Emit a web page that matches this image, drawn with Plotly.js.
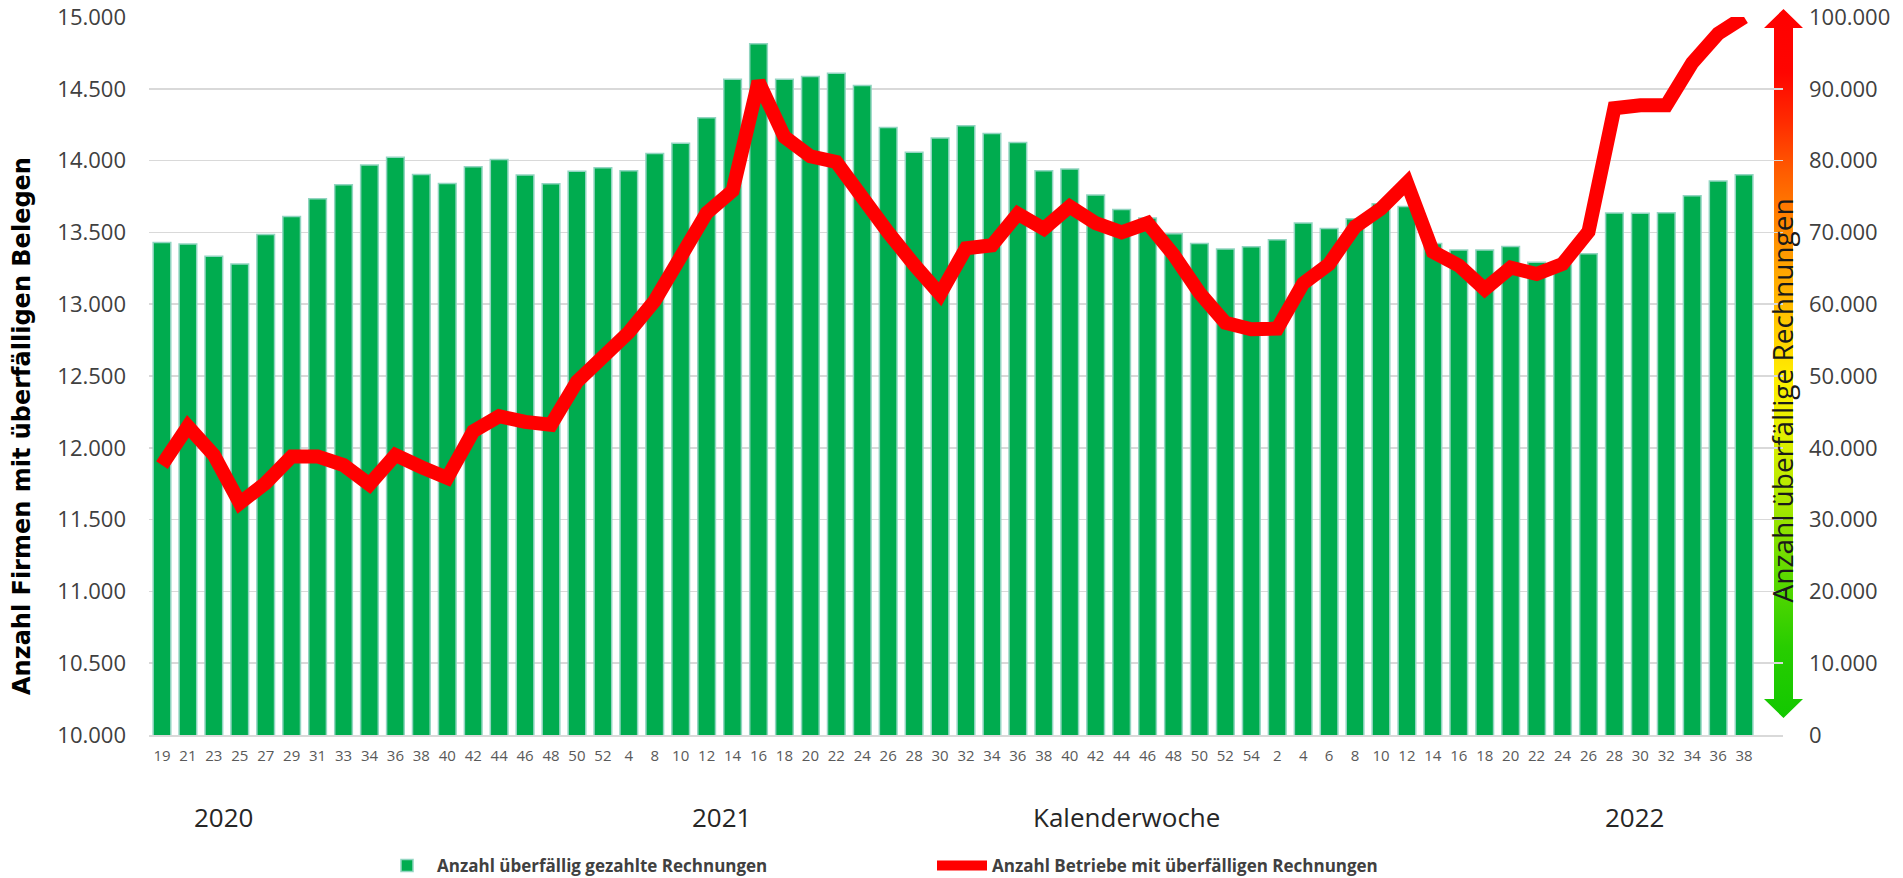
<!DOCTYPE html>
<html>
<head>
<meta charset="utf-8">
<script src="https://cdn.plot.ly/plotly-3.0.1.min.js"></script>
<style>html,body{margin:0;padding:0;background:#fff;}#chart{width:1903px;height:878px;}</style>
</head>
<body>
<div id="chart"></div>
<script>
// Calendar-week tick labels and the year each week belongs to
const weeks = ["19","21","23","25","27","29","31","33","34","36","38","40","42","44","46","48","50","52",
  "4","8","10","12","14","16","18","20","22","24","26","28","30","32","34","36","38","40","42","44","46","48","50","52","54",
  "2","4","6","8","10","12","14","16","18","20","22","24","26","28","30","32","34","36","38"];
const years = [].concat(Array(18).fill("2020"), Array(25).fill("2021"), Array(19).fill("2022"));
const categories = weeks.map((w, i) => years[i] + "-KW" + w);

// Bars (left axis): Anzahl überfällig gezahlte Rechnungen
const barValues = [13430,13420,13334,13280,13486,13610,13734,13832,13970,14023,13904,13841,13958,14007,13900,13839,13925,13951,
  13930,14050,14120,14298,14567,14814,14567,14586,14609,14523,14230,14058,14158,14242,14188,14126,13930,13942,13760,13660,13600,13490,13423,13384,13400,
  13449,13565,13528,13595,13700,13680,13423,13377,13377,13402,13293,13290,13352,13635,13633,13637,13756,13858,13902];

// Line (right axis): Anzahl Betriebe mit überfälligen Rechnungen
const lineValues = [37600,43000,39000,32300,35100,38800,38800,37600,34900,39000,37300,35800,42300,44400,43600,43200,49200,52800,
  56100,60500,66200,72700,75800,91000,83300,80600,79800,74600,70000,65500,61400,67800,68200,72600,70500,73600,71300,70000,71300,66900,61600,57400,56500,
  56600,62900,65600,70800,73300,76900,67300,65400,62100,65100,64200,65600,70100,87300,87700,87700,93600,97700,100000];

const barName = "Anzahl überfällig gezahlte Rechnungen";
const lineName = "Anzahl Betriebe mit überfälligen Rechnungen";
const leftTitle = "Anzahl Firmen mit überfälligen Belegen";
const rightTitle = "Anzahl überfällige Rechnungen";
const xTitle = "Kalenderwoche";
const yearLabels = ["2020", "2021", "2022"];

// Gradient arrow decoration along the right axis
const arrowSvg = '<svg xmlns="http://www.w3.org/2000/svg" width="39" height="709" viewBox="0 0 39 709" preserveAspectRatio="none">' +
  '<defs><linearGradient id="g" x1="0" y1="0" x2="0" y2="1">' +
  '<stop offset="0" stop-color="#ff0000"/>' +
  '<stop offset="0.09" stop-color="#ff0500"/>' +
  '<stop offset="0.16" stop-color="#ff2c00"/>' +
  '<stop offset="0.23" stop-color="#ff5c00"/>' +
  '<stop offset="0.31" stop-color="#ff8a00"/>' +
  '<stop offset="0.41" stop-color="#ffb800"/>' +
  '<stop offset="0.52" stop-color="#ffee00"/>' +
  '<stop offset="0.60" stop-color="#e2f000"/>' +
  '<stop offset="0.69" stop-color="#aee800"/>' +
  '<stop offset="0.80" stop-color="#5cd900"/>' +
  '<stop offset="0.90" stop-color="#28cd00"/>' +
  '<stop offset="1" stop-color="#12c800"/>' +
  '</linearGradient></defs>' +
  '<polygon fill="url(#g)" points="19.5,0 39,19 29,19 29,690 39,690 19.5,709 0,690 10,690 10,19 0,19"/></svg>';
const arrowSrc = 'data:image/svg+xml;charset=utf-8,' + encodeURIComponent(arrowSvg);

const FONT = '"Open Sans", sans-serif';

const traces = [
  {
    type: 'bar', name: barName, x: categories, y: barValues, yaxis: 'y', width: 0.68,
    marker: {color: '#00ac4f', line: {color: '#92d5c1', width: 1.5}},
    legend: 'legend', hoverinfo: 'skip'
  },
  {
    type: 'scatter', mode: 'lines', name: lineName, x: categories, y: lineValues, yaxis: 'y2',
    line: {color: '#ff0000', width: 14},
    legend: 'legend2', hoverinfo: 'skip'
  }
];

const annFont = {family: FONT, size: 26, color: '#262626'};
const legFont = {family: FONT, size: 17, color: '#404040', weight: 'bold'};
const layout = {
  width: 1903, height: 878,
  margin: {l: 149, r: 120, t: 17, b: 143},
  paper_bgcolor: '#ffffff', plot_bgcolor: 'rgba(0,0,0,0)',
  separators: ',.',
  font: {family: FONT, color: '#404040'},
  showlegend: true,
  hovermode: false,
  xaxis: {
    type: 'category', range: [-0.5, 62.5],
    tickmode: 'array', tickvals: categories, ticktext: weeks,
    tickangle: 0, tickfont: {family: FONT, size: 15, color: '#595959'},
    showgrid: false, zeroline: false, showline: true, linecolor: '#d9d9d9', linewidth: 2,
    ticks: '', ticklabelstandoff: 6
  },
  yaxis: {
    range: [10000, 15000], dtick: 500, tickformat: ',d',
    tickfont: {family: FONT, size: 22, color: '#404040'},
    showgrid: true, gridcolor: '#d9d9d9', gridwidth: 1.5, zeroline: false, showline: false,
    ticks: '', ticklabelstandoff: 22
  },
  yaxis2: {
    overlaying: 'y', side: 'right', range: [0, 100000], dtick: 10000, tickformat: ',d',
    tickfont: {family: FONT, size: 22, color: '#404040'},
    showgrid: false, zeroline: false, showline: false, ticks: '', ticklabelstandoff: 25
  },
  legend: {
    orientation: 'h', xref: 'container', yref: 'container', x: 377/1903, y: 1 - 866/878,
    xanchor: 'left', yanchor: 'middle', bgcolor: 'rgba(0,0,0,0)', itemwidth: 50,
    font: legFont
  },
  legend2: {
    orientation: 'h', xref: 'container', yref: 'container', x: 932/1903, y: 1 - 866/878,
    xanchor: 'left', yanchor: 'middle', bgcolor: 'rgba(0,0,0,0)', itemwidth: 50,
    font: legFont
  },
  images: [{
    source: arrowSrc, xref: 'paper', yref: 'paper',
    x: (1764 - 149) / 1634, y: (735 - 9) / 718, sizex: 39 / 1634, sizey: 709 / 718,
    xanchor: 'left', yanchor: 'top', sizing: 'stretch', layer: 'below'
  }],
  annotations: [
    {text: yearLabels[0], xref: 'paper', yref: 'paper', x: (223 - 149) / 1634, y: (735 - 817) / 718, showarrow: false, xanchor: 'center', yanchor: 'middle', font: annFont},
    {text: yearLabels[1], xref: 'paper', yref: 'paper', x: (721 - 149) / 1634, y: (735 - 817) / 718, showarrow: false, xanchor: 'center', yanchor: 'middle', font: annFont},
    {text: xTitle, xref: 'paper', yref: 'paper', x: (1126 - 149) / 1634, y: (735 - 817) / 718, showarrow: false, xanchor: 'center', yanchor: 'middle', font: annFont},
    {text: yearLabels[2], xref: 'paper', yref: 'paper', x: (1634 - 149) / 1634, y: (735 - 817) / 718, showarrow: false, xanchor: 'center', yanchor: 'middle', font: annFont},
    {text: leftTitle, xref: 'paper', yref: 'paper', x: (22 - 149) / 1634, y: (735 - 426) / 718, showarrow: false, textangle: -90, xanchor: 'center', yanchor: 'middle',
      font: {family: '"DejaVu Sans", sans-serif', size: 24, color: '#000000', weight: 'bold'}},
    {text: rightTitle, xref: 'paper', yref: 'paper', x: (1781.5 - 149) / 1634, y: (735 - 401) / 718, showarrow: false, textangle: -90, xanchor: 'center', yanchor: 'middle',
      font: {family: FONT, size: 28, color: '#1a1a1a'}}
  ]
};

Plotly.newPlot('chart', traces, layout, {displayModeBar: false, staticPlot: true});
</script>
</body>
</html>
